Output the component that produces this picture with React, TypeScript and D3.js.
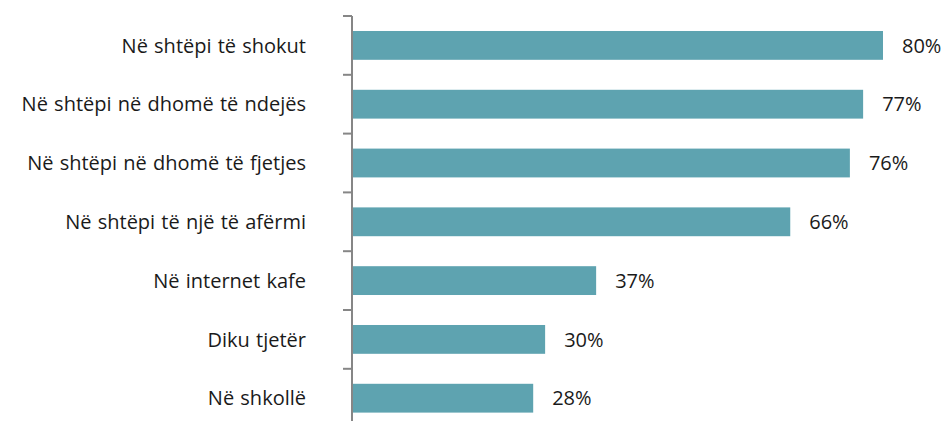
import * as React from 'react';
import * as d3 from 'd3';

const categories = [
  'Në shtëpi të shokut',
  'Në shtëpi në dhomë të ndejës',
  'Në shtëpi në dhomë të fjetjes',
  'Në shtëpi të një të afërmi',
  'Në internet kafe',
  'Diku tjetër',
  'Në shkollë',
];
const values = [80, 77, 75, 66, 36.7, 29, 27.2];
const valueLabels = ['80%', '77%', '76%', '66%', '37%', '30%', '28%'];

const width = 946;
const height = 421;
const axisX = 353;
const top = 16;
const step = 58.8;

export default function App() {
  const x = d3.scaleLinear().domain([0, 80]).range([axisX, 883]);
  const y = d3.scaleBand<string>()
    .domain(categories)
    .range([top, top + step * categories.length])
    .paddingInner(0.51)
    .paddingOuter(0.255);

  const boundaries = d3.range(categories.length + 1).map(i => top + i * step);
  const font = '"Open Sans", sans-serif';

  return (
    <svg width={width} height={height}
      style={{ position: 'absolute', left: 0, top: 0, display: 'block' }}>
      <rect width={width} height={height} fill="#fff" />
      {categories.map((c, i) => (
        <g key={c}>
          <rect x={x(0)} y={y(c)} width={x(values[i]) - x(0)} height={y.bandwidth()} fill="#5ea3b0" />
          <text x={x(values[i]) + 19} y={y(c)! + y.bandwidth() / 2} dy="0.36em"
            fontFamily={font} fontSize={20} fill="#1a1a1a">{valueLabels[i]}</text>
          <text x={306} y={y(c)! + y.bandwidth() / 2} dy="0.36em" textAnchor="end"
            fontFamily={font} fontSize={20} fill="#1a1a1a" wordSpacing={1}>{c}</text>
        </g>
      ))}
      <line x1={axisX - 1} x2={axisX - 1} y1={top} y2={height} stroke="#868686" strokeWidth={2} />
      {boundaries.map(b => (
        <line key={b} x1={axisX - 10} x2={axisX - 1} y1={b} y2={b} stroke="#868686" strokeWidth={2} />
      ))}
    </svg>
  );
}
